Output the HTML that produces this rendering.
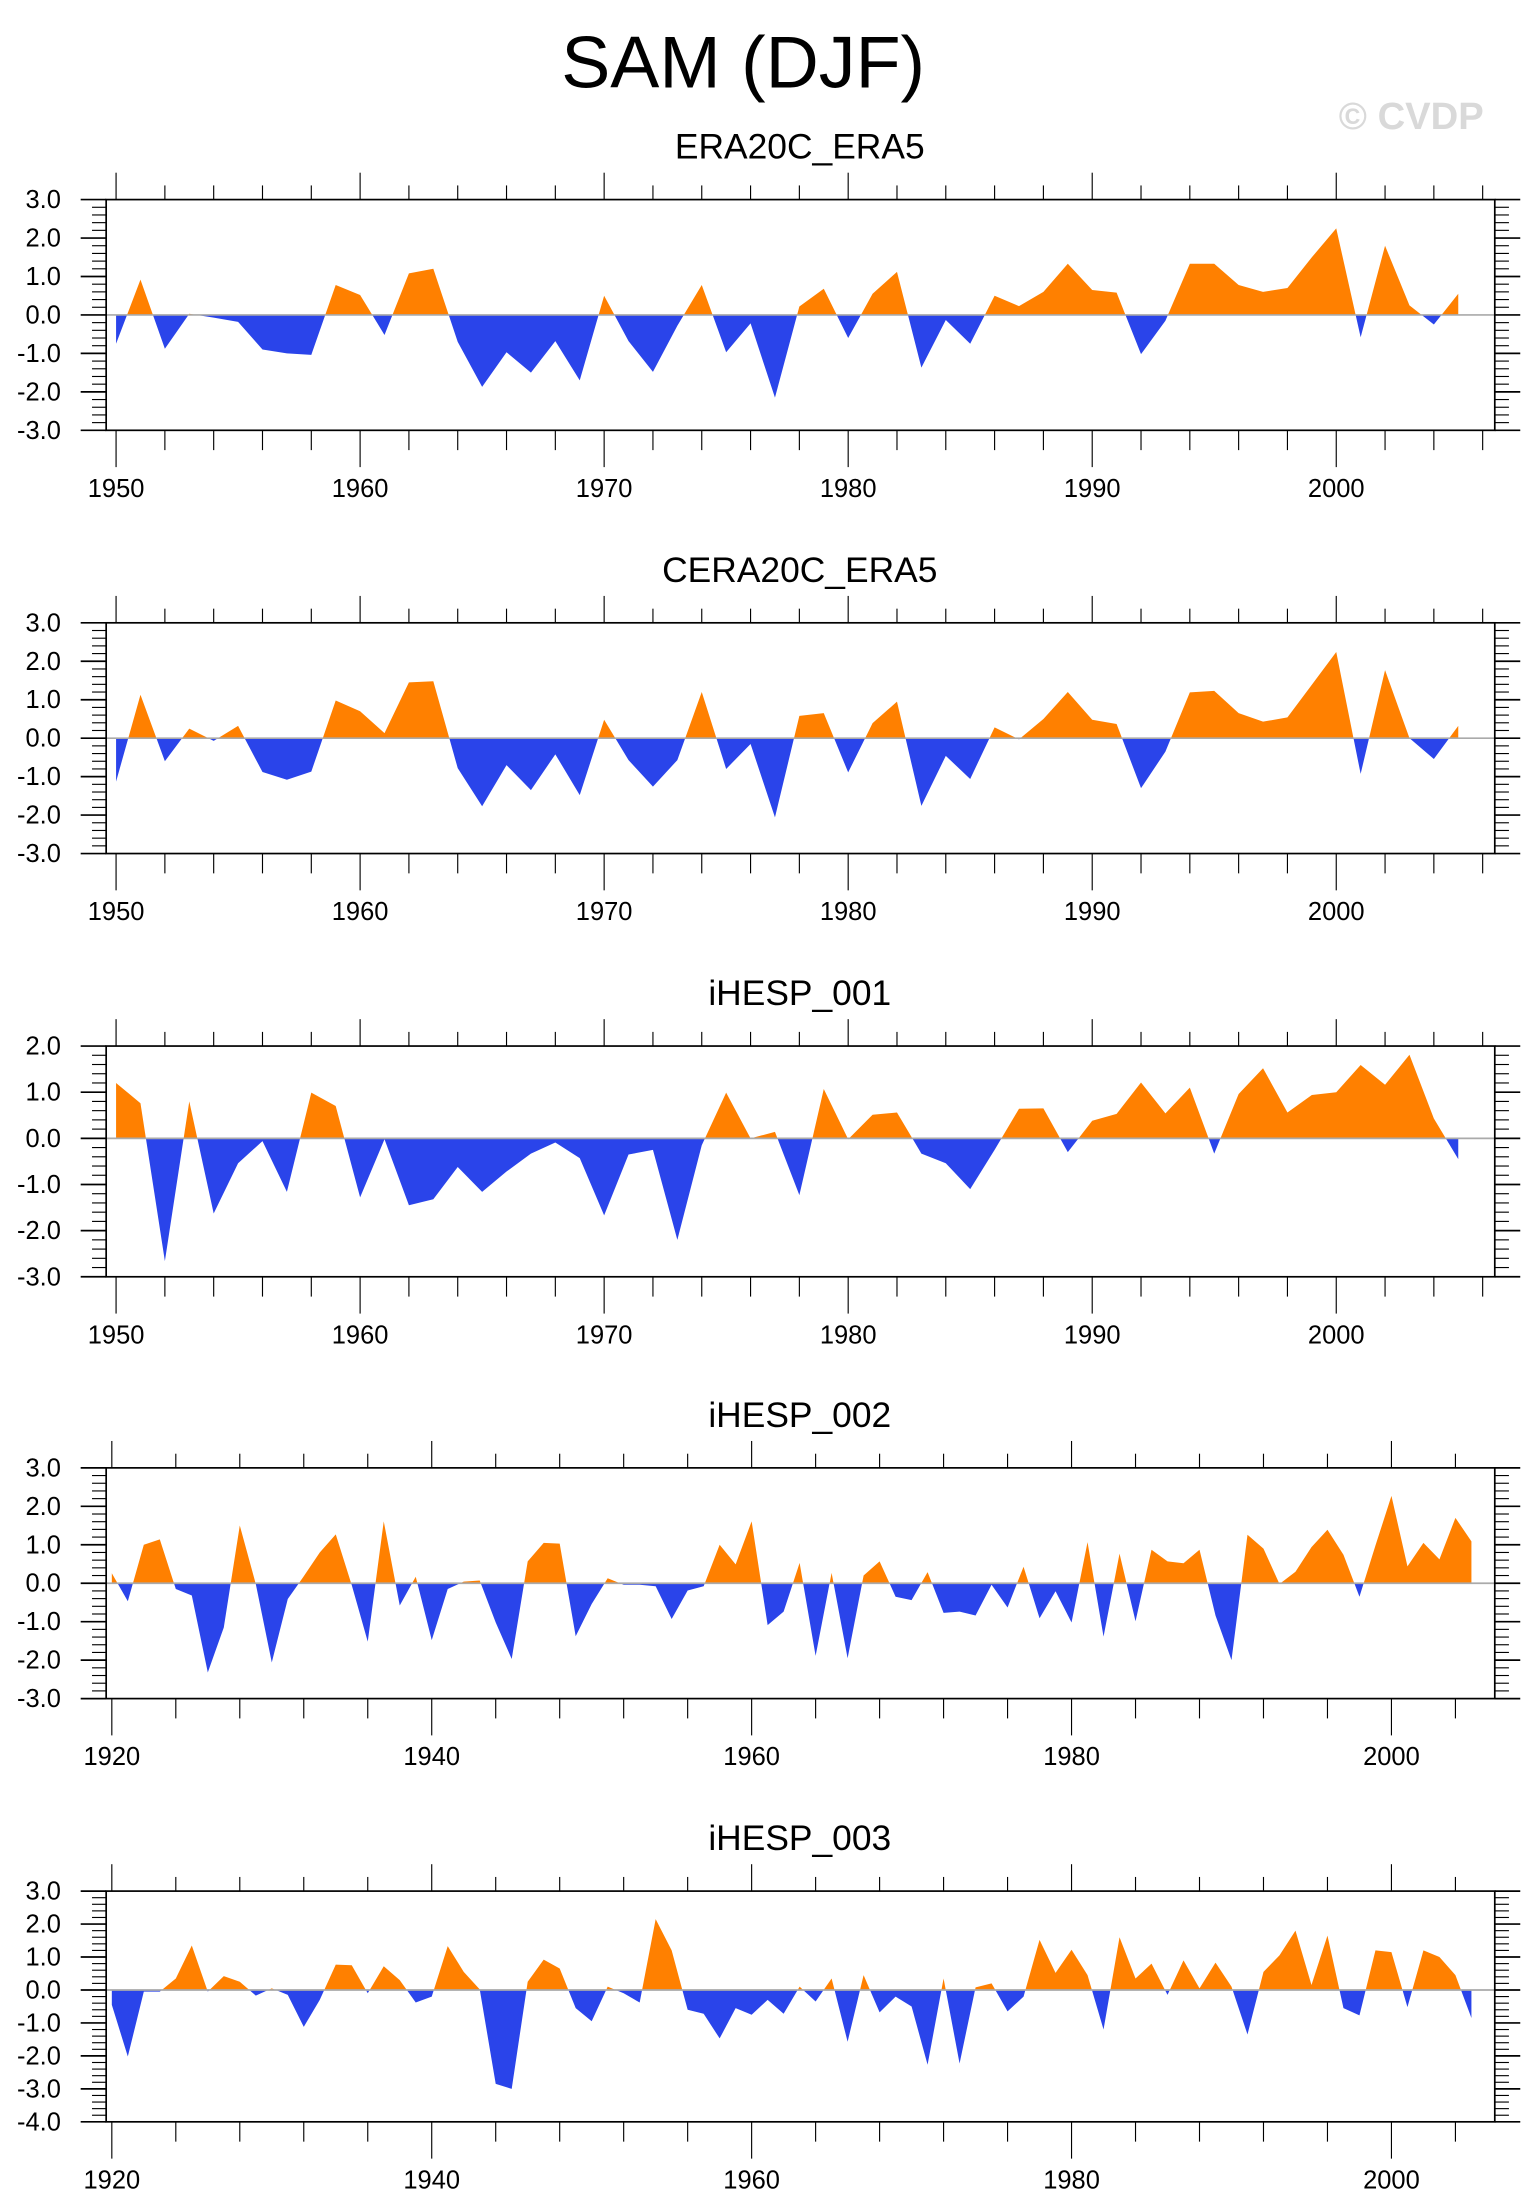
<!DOCTYPE html>
<html><head><meta charset="utf-8">
<style>
html,body{margin:0;padding:0;background:#fff;}
svg{display:block;font-family:"Liberation Sans",sans-serif;}
</style></head>
<body>
<svg id="chart" width="1533" height="2211" viewBox="0 0 1083 1562" preserveAspectRatio="none" xmlns="http://www.w3.org/2000/svg">
<text x="525" y="62" font-size="52" text-anchor="middle" fill="#000">SAM (DJF)</text>
<text x="997" y="91" font-size="27" font-weight="bold" text-anchor="middle" fill="#d9d9d9">© CVDP</text>
</svg>
<script>
const titles = ["ERA20C_ERA5","CERA20C_ERA5","iHESP_001","iHESP_002","iHESP_003"];
const startYears = [1950,1950,1950,1920,1920];
const era20cValues = [-0.75,0.92,-0.88,0.03,-0.07,-0.18,-0.9,-1.0,-1.04,0.78,0.52,-0.52,1.08,1.2,-0.7,-1.87,-0.97,-1.5,-0.68,-1.7,0.5,-0.68,-1.48,-0.28,0.78,-0.97,-0.22,-2.15,0.22,0.68,-0.6,0.55,1.12,-1.37,-0.13,-0.75,0.5,0.23,0.6,1.33,0.65,0.58,-1.02,-0.15,1.33,1.33,0.78,0.6,0.7,1.5,2.25,-0.58,1.8,0.25,-0.25,0.55];
const cera20cValues = [-1.13,1.13,-0.6,0.25,-0.07,0.32,-0.88,-1.08,-0.87,0.98,0.7,0.13,1.45,1.48,-0.78,-1.77,-0.7,-1.35,-0.42,-1.48,0.48,-0.57,-1.26,-0.57,1.2,-0.8,-0.15,-2.06,0.58,0.65,-0.89,0.39,0.95,-1.76,-0.46,-1.06,0.28,-0.03,0.5,1.2,0.48,0.37,-1.3,-0.35,1.19,1.23,0.65,0.43,0.54,1.39,2.24,-0.93,1.77,0.0,-0.54,0.32];
const ihesp001Values = [1.2,0.76,-2.66,0.8,-1.63,-0.54,-0.06,-1.16,0.99,0.7,-1.28,-0.02,-1.45,-1.32,-0.62,-1.16,-0.72,-0.33,-0.09,-0.43,-1.67,-0.35,-0.25,-2.2,-0.15,0.99,0.0,0.14,-1.23,1.07,-0.02,0.51,0.56,-0.33,-0.54,-1.1,-0.25,0.64,0.65,-0.3,0.38,0.53,1.21,0.54,1.1,-0.33,0.96,1.52,0.56,0.94,1.0,1.59,1.16,1.81,0.43,-0.45];
const ihesp002Values = [0.26,-0.47,1.0,1.14,-0.15,-0.32,-2.32,-1.15,1.5,-0.02,-2.06,-0.41,0.18,0.8,1.27,-0.05,-1.52,1.61,-0.58,0.17,-1.48,-0.15,0.04,0.07,-1.02,-1.97,0.57,1.05,1.03,-1.38,-0.54,0.13,-0.04,-0.04,-0.08,-0.93,-0.19,-0.08,1.0,0.49,1.61,-1.09,-0.74,0.53,-1.89,0.27,-1.95,0.2,0.57,-0.35,-0.44,0.29,-0.77,-0.74,-0.84,-0.04,-0.63,0.43,-0.91,-0.21,-1.02,1.07,-1.39,0.77,-0.99,0.87,0.57,0.52,0.87,-0.84,-2.0,1.26,0.9,-0.02,0.3,0.94,1.39,0.74,-0.35,0.98,2.27,0.44,1.05,0.62,1.7,1.09];
const ihesp003Values = [-0.45,-2.02,-0.05,-0.05,0.35,1.35,-0.05,0.42,0.25,-0.17,0.05,-0.15,-1.12,-0.3,0.77,0.75,-0.1,0.72,0.3,-0.38,-0.2,1.33,0.55,0.02,-2.85,-3.0,0.25,0.92,0.65,-0.55,-0.95,0.1,-0.1,-0.38,2.15,1.2,-0.6,-0.72,-1.47,-0.55,-0.75,-0.3,-0.72,0.1,-0.35,0.35,-1.57,0.45,-0.68,-0.2,-0.5,-2.27,0.35,-2.23,0.08,0.2,-0.65,-0.2,1.52,0.52,1.22,0.45,-1.2,1.6,0.35,0.8,-0.15,0.9,0.05,0.83,0.1,-1.35,0.55,1.05,1.8,0.15,1.65,-0.55,-0.77,1.2,1.15,-0.52,1.2,1.0,0.45,-0.85];
const yMins = [-3,-3,-3,-3,-4];
const yMaxs = [3,3,2,3,3];
const allSeries = [era20cValues,cera20cValues,ihesp001Values,ihesp002Values,ihesp003Values];

const NS="http://www.w3.org/2000/svg";
const svg=document.getElementById('chart');
const boxTops=[141,440,739,1037,1336];
const boxH=163, X0=75, X1=1056;
function mk(tag,attrs,parent){const e=document.createElementNS(NS,tag);for(const k in attrs)e.setAttribute(k,attrs[k]);(parent||svg).appendChild(e);return e;}

allSeries.forEach((vals,p)=>{
  const top=boxTops[p], bot=top+boxH;
  const y0=startYears[p];
  const modern = y0===1950;
  const xs = modern ? (yr=>82+(yr-1950)*17.24) : (yr=>79+(yr-1920)*11.3);
  const ymin=yMins[p], ymax=yMaxs[p];
  const ys = v=>bot-(v-ymin)/(ymax-ymin)*boxH;
  const g=mk('g',{});
  
  
  const t=mk('text',{x:565,y:top-29,'font-size':25,'text-anchor':'middle',fill:'#000'},g);
  t.textContent=titles[p];
  
  
  const zy=ys(0);
  const cpA=mk('clipPath',{id:'ca'+p},g); mk('rect',{x:X0,y:top,width:X1-X0,height:zy-top},cpA);
  const cpB=mk('clipPath',{id:'cb'+p},g); mk('rect',{x:X0,y:zy,width:X1-X0,height:bot-zy},cpB);
  let d='M'+xs(y0)+','+zy;
  vals.forEach((v,i)=>{d+=' L'+xs(y0+i).toFixed(2)+','+ys(v).toFixed(2);});
  d+=' L'+xs(y0+vals.length-1)+','+zy+' Z';
  const pa=mk('path',{d:d,fill:'#ff8000','clip-path':'url(#ca'+p+')'},g);
  
  
  const pb=mk('path',{d:d,fill:'#2a44ea','clip-path':'url(#cb'+p+')'},g);
  
  
  const zl=mk('line',{x1:X0,x2:X1,y1:zy,y2:zy,stroke:'#aaa','stroke-width':1.2},g);
  
  
  const bx=mk('rect',{x:X0,y:top,width:X1-X0,height:boxH,fill:'none',stroke:'#000','stroke-width':1.2},g);
  
  
  const step = modern?2:4, major = modern?10:20;
  const yFirst = modern?1950:1920;
  for(let yr=yFirst; xs(yr)<=X1; yr+=step){
    const x=xs(yr), isM=(yr%major===0), L=isM?19:10;
    mk('line',{x1:x,x2:x,y1:top,y2:top-L,stroke:'#000','stroke-width':0.8},g);
    mk('line',{x1:x,x2:x,y1:bot,y2:bot+L+(isM?7:4),stroke:'#000','stroke-width':0.8},g);
    if(isM){
      const lt=mk('text',{x:x,y:bot+47,'font-size':18,'text-anchor':'middle',fill:'#000'},g);
      lt.textContent=yr;
      
      
    }
  }
  for(let k=Math.round(ymin*5);k<=ymax*5;k++){
    const v=k/5, y=ys(v), isM=(k%5===0), L=isM?18:10;
    mk('line',{x1:X0,x2:X0-L,y1:y,y2:y,stroke:'#000','stroke-width':isM?1.2:0.8},g);
    mk('line',{x1:X1,x2:X1+L,y1:y,y2:y,stroke:'#000','stroke-width':isM?1.2:0.8},g);
    if(isM){
      const lt=mk('text',{x:43,y:y+6,'font-size':18,'text-anchor':'end',fill:'#000'},g);
      lt.textContent=v.toFixed(1);
      
      
    }
  }
});
</script>
</body></html>
